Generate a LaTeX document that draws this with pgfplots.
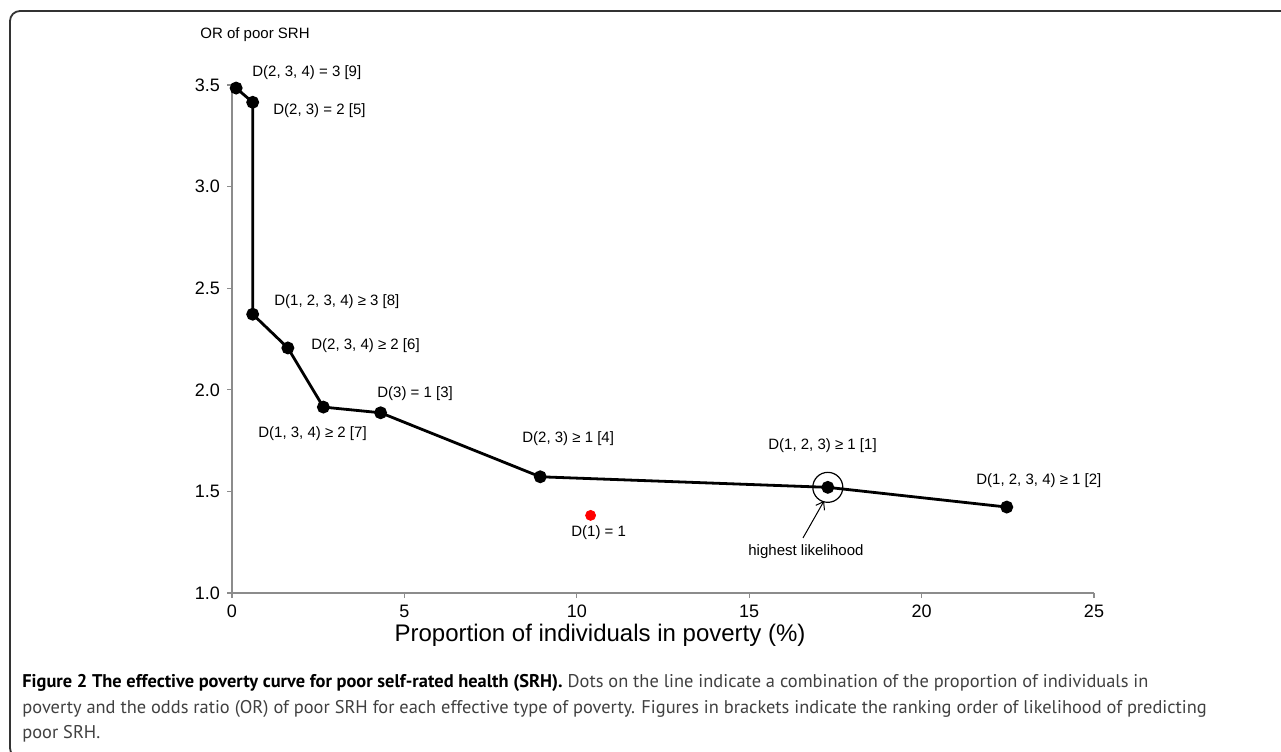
\documentclass[border=0pt]{standalone}
\usepackage{fontspec}
\setmainfont{Liberation Sans}
\newfontfamily\capfont{PT Sans}
\usepackage{pgfplots}
\pgfplotsset{compat=1.18}
\usetikzlibrary{arrows.meta}

\begin{document}
\begin{tikzpicture}
\useasboundingbox (0,0) rectangle (640.5pt,-375.5pt);
% frame
\draw[line width=0.9pt, black!80, rounded corners=5pt] (645pt,-5.5pt) -- (5pt,-5.5pt) -- (5pt,-379pt) -- (30pt,-379pt);

\begin{axis}[
  at={(116pt,-296.5pt)}, anchor=south west,
  width=431pt, height=254pt, scale only axis,
  xmin=0, xmax=25, ymin=1, ymax=3.5,
  axis x line*=bottom, axis y line*=left,
  axis line style={black!45, line width=0.6pt},
  xtick={0,5,10,15,20,25},
  ytick={1,1.5,2,2.5,3,3.5},
  tick align=outside, major tick length=2.5pt,
  tick style={black!45, line width=0.6pt},
  ticklabel style={font=\fontsize{9}{10}\selectfont, text=black},
  /pgf/number format/assume math mode=true,
  yticklabel={\pgfmathprintnumber[fixed,fixed zerofill,precision=1,assume math mode=true]{\tick}},
  xticklabel={\pgfmathprintnumber[fixed,precision=0,assume math mode=true]{\tick}},
  clip=false,
]
\addplot[black, line width=1.4pt, mark=*, mark size=2.5pt, mark options={solid, fill=black}]
  coordinates {(0.12,3.485)(0.60,3.415)(0.60,2.372)(1.62,2.206)(2.65,1.915)(4.31,1.887)(8.94,1.572)(17.28,1.520)(22.47,1.423)};
\addplot[only marks, mark=*, mark size=2.5pt, red, mark options={fill=red}]
  coordinates {(10.40,1.382)};
\addplot[only marks, mark=o, mark size=7.5pt, black, line width=0.6pt]
  coordinates {(17.28,1.520)};
\draw[-{Straight Barb[length=3.5pt,width=5pt]}, line width=0.5pt] (axis cs:16.56,1.271) -- (axis cs:17.17,1.453);
\end{axis}

\begin{scope}[x=0.5pt, y=-0.5pt, every node/.style={inner sep=0pt, font=\fontsize{7.5}{9}\selectfont}]
\node[anchor=west] at (200,35) {OR of poor SRH};
\node[anchor=west] at (252,73) {D(2, 3, 4) = 3 [9]};
\node[anchor=west] at (273,111) {D(2, 3) = 2 [5]};
\node[anchor=west] at (274,302) {D(1, 2, 3, 4) ≥ 3 [8]};
\node[anchor=west] at (311,346) {D(2, 3, 4) ≥ 2 [6]};
\node[anchor=west] at (377,394) {D(3) = 1 [3]};
\node[anchor=west] at (258,434) {D(1, 3, 4) ≥ 2 [7]};
\node[anchor=west] at (522,439) {D(2, 3) ≥ 1 [4]};
\node[anchor=west] at (768,446) {D(1, 2, 3) ≥ 1 [1]};
\node[anchor=west] at (571,533) {D(1) = 1};
\node[anchor=west] at (748,552) {highest likelihood};
\node[anchor=west] at (976,481) {D(1, 2, 3, 4) ≥ 1 [2]};
\node[font=\fontsize{12}{14}\selectfont] at (600,635) {Proportion of individuals in poverty (\%)};
\node[anchor=base west, font=\capfont\fontsize{9.2}{12}\selectfont, text=black!75] at (22,687)
  {{\bfseries\color{black}Figure 2 The effective poverty curve for poor self-rated health (SRH).} Dots on the line indicate a combination of the proportion of individuals in};
\node[anchor=base west, font=\capfont\fontsize{9.2}{12}\selectfont, text=black!75] at (22,713)
  {poverty and the odds ratio (OR) of poor SRH for each effective type of poverty. Figures in brackets indicate the ranking order of likelihood of predicting};
\node[anchor=base west, font=\capfont\fontsize{9.2}{12}\selectfont, text=black!75] at (22,738)
  {poor SRH.};
\end{scope}
\end{tikzpicture}
\end{document}
